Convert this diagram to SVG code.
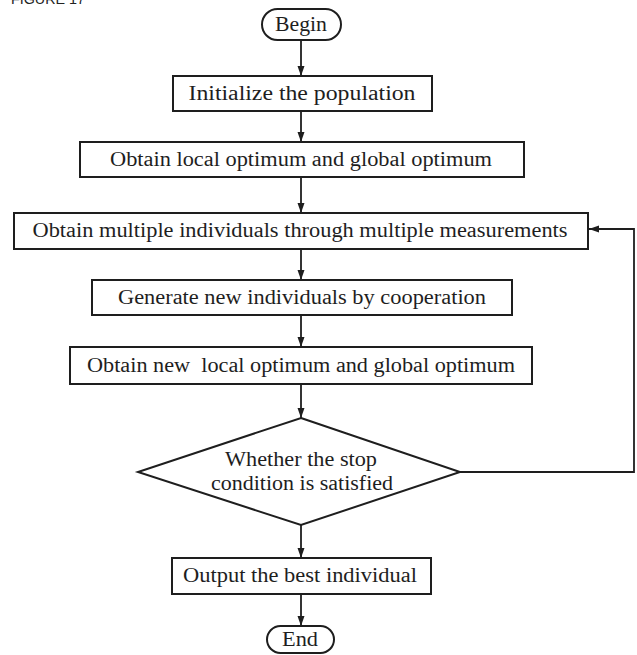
<svg xmlns="http://www.w3.org/2000/svg" width="637" height="655" viewBox="0 0 637 655">
<defs>
<style>
.box{fill:#fff;stroke:#1e1e1e;stroke-width:2}
.t{font-family:"Liberation Serif","Times New Roman",serif;font-size:20px;fill:#1e1e1e;text-anchor:middle}
.ln{fill:none;stroke:#1e1e1e;stroke-width:1.8}
.cap{font-family:"Liberation Sans",Arial,sans-serif;font-size:14px;fill:#222}
</style>
<marker id="ah" viewBox="0 0 10 10" refX="10" refY="5" markerWidth="10" markerHeight="10" markerUnits="userSpaceOnUse" orient="auto">
<path d="M0,1.5 L10,5 L0,8.5 Z" fill="#1e1e1e"/>
</marker>
</defs>
<rect width="637" height="655" fill="#fff"/>
<text class="cap" x="11" y="4" textLength="74" lengthAdjust="spacingAndGlyphs">FIGURE 17</text>
<g id="connectors">
<line class="ln" x1="301" y1="40" x2="301" y2="76" marker-end="url(#ah)"/>
<line class="ln" x1="301" y1="111" x2="301" y2="142" marker-end="url(#ah)"/>
<line class="ln" x1="301" y1="177" x2="301" y2="213" marker-end="url(#ah)"/>
<line class="ln" x1="301" y1="249" x2="301" y2="280" marker-end="url(#ah)"/>
<line class="ln" x1="301" y1="315" x2="301" y2="347" marker-end="url(#ah)"/>
<line class="ln" x1="301" y1="384" x2="301" y2="418" marker-end="url(#ah)"/>
<line class="ln" x1="301" y1="525" x2="301" y2="558" marker-end="url(#ah)"/>
<line class="ln" x1="301" y1="594" x2="301" y2="626" marker-end="url(#ah)"/>
<polyline class="ln" points="460,472 634,472 634,229 589,229" marker-end="url(#ah)"/>
</g>
<g id="begin">
<rect class="box" x="262" y="9" width="79" height="31" rx="15.5"/>
<text class="t" x="301" y="31" textLength="52" lengthAdjust="spacingAndGlyphs">Begin</text>
</g>
<g id="init">
<rect class="box" x="173" y="76" width="259" height="35"/>
<text class="t" x="302" y="100" textLength="227" lengthAdjust="spacingAndGlyphs">Initialize the population</text>
</g>
<g id="local">
<rect class="box" x="80" y="142" width="444" height="35"/>
<text class="t" x="301" y="166" textLength="382" lengthAdjust="spacingAndGlyphs">Obtain local optimum and global optimum</text>
</g>
<g id="multiple">
<rect class="box" x="14" y="213" width="574" height="36"/>
<text class="t" x="300" y="237" textLength="535" lengthAdjust="spacingAndGlyphs">Obtain multiple individuals through multiple measurements</text>
</g>
<g id="generate">
<rect class="box" x="92" y="280" width="420" height="35"/>
<text class="t" x="302" y="304" textLength="368" lengthAdjust="spacingAndGlyphs">Generate new individuals by cooperation</text>
</g>
<g id="newlocal">
<rect class="box" x="70" y="347" width="462" height="37"/>
<text class="t" x="301" y="372" textLength="428" lengthAdjust="spacingAndGlyphs" xml:space="preserve">Obtain new  local optimum and global optimum</text>
</g>
<g id="decision">
<polygon class="box" points="301,418 460,472 301,525 138,472"/>
<text class="t" x="301" y="466" textLength="152" lengthAdjust="spacingAndGlyphs">Whether the stop</text>
<text class="t" x="302" y="490" textLength="182" lengthAdjust="spacingAndGlyphs">condition is satisfied</text>
</g>
<g id="output">
<rect class="box" x="172" y="558" width="259" height="36"/>
<text class="t" x="300" y="582" textLength="234" lengthAdjust="spacingAndGlyphs">Output the best individual</text>
</g>
<g id="end">
<rect class="box" x="267" y="626" width="67" height="27" rx="13.5"/>
<text class="t" x="300" y="646" textLength="36" lengthAdjust="spacingAndGlyphs">End</text>
</g>
</svg>
